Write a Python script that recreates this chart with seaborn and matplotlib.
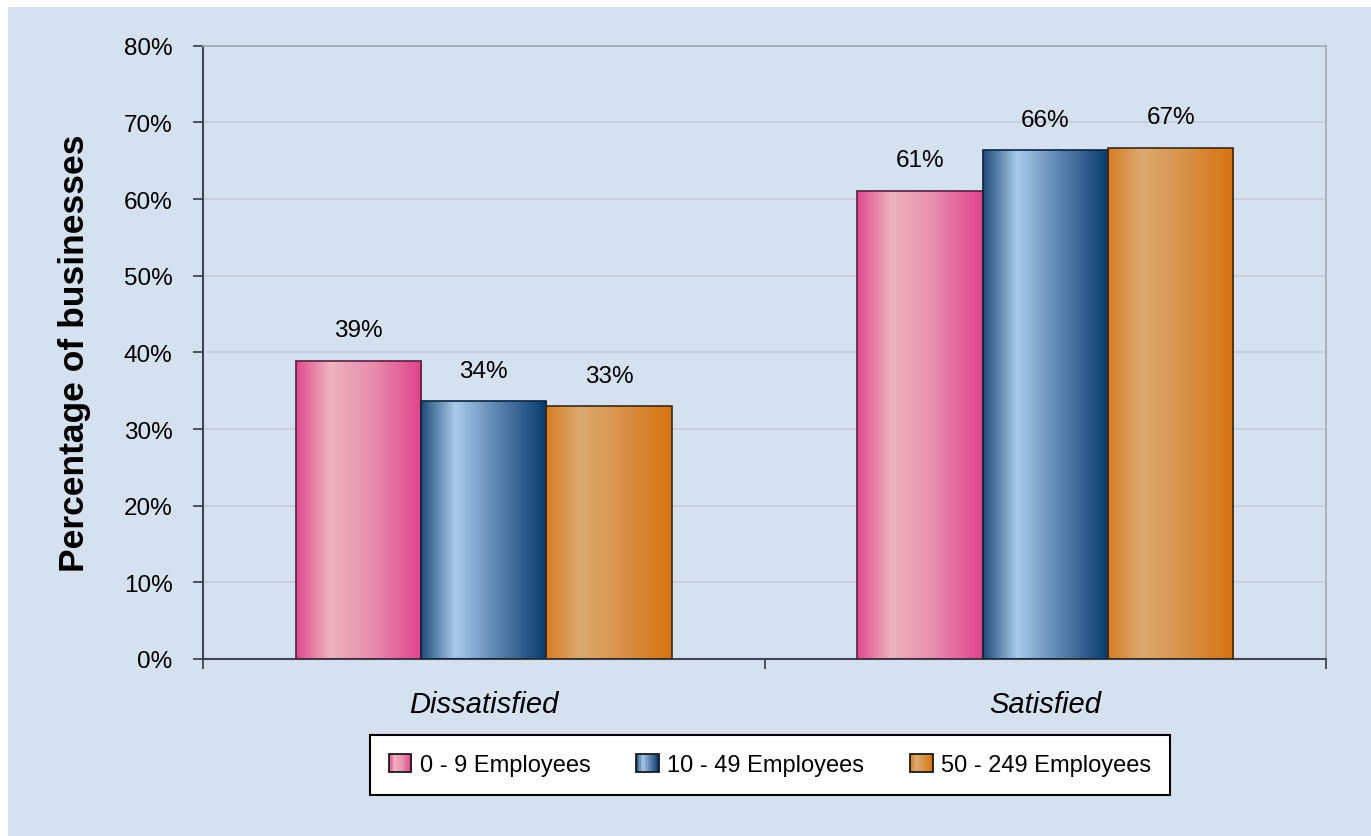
import pandas as pd
import numpy as np
import seaborn as sns
import matplotlib.pyplot as plt
from matplotlib.colors import LinearSegmentedColormap
from matplotlib.patches import Rectangle, Patch
from matplotlib.legend_handler import HandlerPatch
from matplotlib.ticker import PercentFormatter, FixedLocator

# Data
categories = ['Dissatisfied', 'Satisfied']
sizes = ['0 - 9 Employees', '10 - 49 Employees', '50 - 249 Employees']
small = [38.9, 61.1]
medium = [33.6, 66.4]
large = [33.0, 66.7]

df = pd.DataFrame({
    'Satisfaction': categories * 3,
    'Size': [sizes[0]] * 2 + [sizes[1]] * 2 + [sizes[2]] * 2,
    'Percent': small + medium + large,
})

bg = '#D6E1EF'
mid_colors = {sizes[0]: '#E67FA8', sizes[1]: '#5F86B2', sizes[2]: '#D89150'}
edge_colors = ['#5A1F3F', '#0A2440', '#3A2A18']
# gradient stops (left -> highlight -> right)
grad_stops = [
    ['#E04A8E', '#EEB3BE', '#E88FAE', '#E0448A'],
    ['#1F4A7A', '#A8CBE8', '#5F86B2', '#063A6A'],
    ['#D67E24', '#DCAA70', '#D9924A', '#D5740F'],
]
cmaps = [LinearSegmentedColormap.from_list('g%d' % i, list(zip([0, 0.27, 0.6, 1], st)))
         for i, st in enumerate(grad_stops)]

sns.set_style('white')
plt.rcParams['font.family'] = ['Liberation Sans', 'DejaVu Sans']
plt.rcParams['text.color'] = 'black'
plt.rcParams['axes.labelcolor'] = 'black'
plt.rcParams['xtick.labelcolor'] = 'black'
plt.rcParams['ytick.labelcolor'] = 'black'

fig = plt.figure(figsize=(13.71, 8.37), dpi=100)
fig.patch.set_facecolor('white')
fig.add_artist(Rectangle((8 / 1371, -0.1), 1.2, 1.1 - 8 / 837,
                         transform=fig.transFigure, facecolor=bg,
                         edgecolor='none', zorder=-5))

ax = fig.add_axes([203 / 1371, 1 - 660 / 837, 1123 / 1371, (660 - 46.7) / 837])
ax.set_facecolor(bg)
ax.grid(axis='y', color='#C6CCD6', linewidth=1.2, zorder=0)

sns.barplot(data=df, x='Satisfaction', y='Percent', hue='Size',
            hue_order=sizes, order=categories, palette=mid_colors,
            width=0.67, gap=0, linewidth=1.2, saturation=1,
            legend=False, ax=ax, zorder=2)

# gradient fill clipped to each bar
grad = np.linspace(0, 1, 256).reshape(1, -1)
for container, cmap, ec in zip(ax.containers, cmaps, edge_colors):
    for bar in container:
        x, y = bar.get_xy()
        w, h = bar.get_width(), bar.get_height()
        im = ax.imshow(grad, cmap=cmap, extent=[x, x + w, y, y + h],
                       aspect='auto', interpolation='bicubic', zorder=2)
        im.set_clip_path(bar)
        bar.set_facecolor('none')
        bar.set_edgecolor(ec)
        bar.set_zorder(3)
    labels = [f'{v:.0f}%' for v in container.datavalues]
    ax.bar_label(container, labels=labels, padding=14, fontsize=17.5, color='black')

ax.set_xlim(-0.5, 1.5)
ax.set_ylim(0, 80)
ax.set_aspect('auto')

# axes styling
for side in ['left', 'bottom']:
    ax.spines[side].set_color('#404552')
    ax.spines[side].set_linewidth(1.5)
for side in ['top', 'right']:
    ax.spines[side].set_color('#A4A8B0')
    ax.spines[side].set_linewidth(1.2)

ax.yaxis.set_major_locator(FixedLocator(range(0, 81, 10)))
ax.yaxis.set_major_formatter(PercentFormatter(xmax=100, decimals=0))
ax.tick_params(axis='y', direction='out', length=7, width=1.3, color='#404552',
               pad=15, labelsize=17.5, left=True)
ax.xaxis.set_minor_locator(FixedLocator([-0.5, 0.5, 1.5]))
ax.tick_params(axis='x', which='major', length=0, pad=22, labelsize=21)
ax.tick_params(axis='x', which='minor', direction='out', length=7, width=1.3,
               color='#404552', bottom=True)
for lbl in ax.get_xticklabels():
    lbl.set_fontstyle('italic')

ax.set_xlabel('')
ax.set_ylabel('Percentage of businesses', fontsize=25.5, fontweight='bold')
ax.yaxis.set_label_coords(-0.1, 0.5)


class GradientHandler(HandlerPatch):
    def __init__(self, cmap, **kw):
        super().__init__(**kw)
        self.cmap = cmap

    def create_artists(self, legend, orig_handle, xdescent, ydescent,
                       width, height, fontsize, trans):
        n = 16
        arts = []
        for i in range(n):
            r = Rectangle((-xdescent + width * i / n, -ydescent), width / n + 0.3, height,
                          facecolor=self.cmap((i + 0.5) / n), edgecolor='none',
                          transform=trans)
            arts.append(r)
        arts.append(Rectangle((-xdescent, -ydescent), width, height, facecolor='none',
                              edgecolor='#1A1A1A', linewidth=1.3, transform=trans))
        return arts


handles = [Patch(facecolor=mid_colors[s]) for s in sizes]
handler_map = {h: GradientHandler(c) for h, c in zip(handles, cmaps)}
leg = fig.legend(handles, sizes, loc='lower left',
                 bbox_to_anchor=(370 / 1371, 1 - 796 / 837, 800 / 1371, 58 / 837),
                 mode='expand', ncol=3, fontsize=17, frameon=True, fancybox=False,
                 handlelength=0.95, handleheight=0.8, handletextpad=0.35,
                 borderaxespad=0, borderpad=0.8, handler_map=handler_map)
leg.get_frame().set_edgecolor('black')
leg.get_frame().set_linewidth(1.5)
leg.get_frame().set_facecolor('white')
leg.get_frame().set_alpha(1)

fig.savefig('out.png', dpi=100, facecolor=fig.get_facecolor())
